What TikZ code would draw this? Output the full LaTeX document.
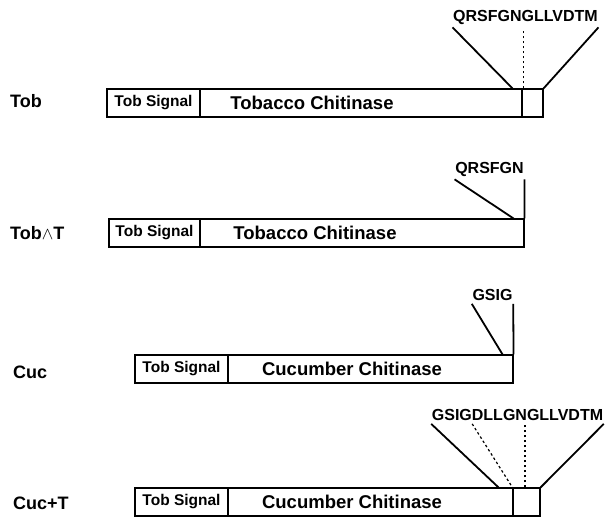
\documentclass[tikz,border=0pt]{standalone}
\usepackage{fontspec}
\setmainfont{Liberation Sans}
\begin{document}
\begin{tikzpicture}[x=1pt,y=-1pt]
% Estilos
\tikzset{
  signalbox/.style={rectangle, draw, line width=1.1pt, minimum height=28pt, inner sep=0pt, font=\fontsize{15.5}{17}\selectfont\bfseries},
  chitinase/.style={rectangle, draw, line width=1.1pt, minimum height=28pt, inner sep=0pt},
  tailbox/.style={rectangle, draw, line width=1.1pt, minimum height=28pt, inner sep=0pt},
  protein/.style={inner sep=0pt, font=\fontsize{18.5}{20}\selectfont\bfseries},
  construct/.style={anchor=west, inner sep=0pt, font=\fontsize{18}{20}\selectfont\bfseries},
  peptide/.style={inner xsep=0.5pt, inner ysep=3pt, font=\fontsize{16}{18}\selectfont\bfseries},
  link/.style={line width=1.8pt},
  dotlink/.style={line width=1.2pt, dash pattern=on 2.5pt off 2.5pt}
}
\useasboundingbox (0,0) rectangle (605,519);

% Tob
\node[construct] (lab1) at (10,101) {Tob};
\node[signalbox, minimum width=93pt] (sig1) at (153.5,103) {Tob Signal};
\node[chitinase, minimum width=322pt] (chi1) at (361,103) {};
\node[protein] (txt1) at (312,103) {Tobacco Chitinase};
\node[tailbox, minimum width=21pt] (tail1) at (532.5,103) {};
\node[peptide] (pep1) at (525.5,17) {QRSFGNGLLVDTM};
\draw[link] (pep1.south west) -- ([xshift=-10pt]chi1.north east);
\draw[dotlink] ([xshift=2pt]tail1.north west) -- ++(0,-57);
\draw[link] (pep1.south east) -- (tail1.north east);

% Tob delta T
\node[construct] (lab2) at (10,233) {Tob$\wedge$T};
\node[signalbox, minimum width=91pt] (sig2) at (154.5,233) {Tob Signal};
\node[chitinase, minimum width=324pt] (chi2) at (362,233) {};
\node[protein] (txt2) at (315,233) {Tobacco Chitinase};
\node[peptide] (pep2) at (489.5,169) {QRSFGN};
\draw[link] (pep2.south west) -- ([xshift=-11pt]chi2.north east);
\draw[link] (pep2.south east) -- (chi2.north east);

% Cuc
\node[construct] (lab3) at (13,372) {Cuc};
\node[signalbox, minimum width=93pt] (sig3) at (181.5,369) {Tob Signal};
\node[chitinase, minimum width=285pt] (chi3) at (370.5,369) {};
\node[protein] (txt3) at (352,369) {Cucumber Chitinase};
\node[peptide] (pep3) at (492.5,295) {GSIG};
\draw[link] (pep3.south west) -- ([xshift=-11pt]chi3.north east);
\draw[link] (pep3.south east) -- (chi3.north east);

% Cuc+T
\node[construct] (lab4) at (13,503) {Cuc+T};
\node[signalbox, minimum width=93pt] (sig4) at (181.5,502) {Tob Signal};
\node[chitinase, minimum width=285pt] (chi4) at (370.5,502) {};
\node[protein] (txt4) at (352,502) {Cucumber Chitinase};
\node[tailbox, minimum width=27pt] (tail4) at (526.5,502) {};
\node[peptide] (pep4) at (517.5,415) {GSIGDLLGNGLLVDTM};
\draw[link] (pep4.south west) -- ([xshift=-15pt]chi4.north east);
\draw[dotlink] ([xshift=41pt]pep4.south west) -- (tail4.north west);
\draw[dotlink] ([xshift=-1.5pt]tail4.north) -- ++(0,-62);
\draw[link] (pep4.south east) -- (tail4.north east);

\end{tikzpicture}
\end{document}
